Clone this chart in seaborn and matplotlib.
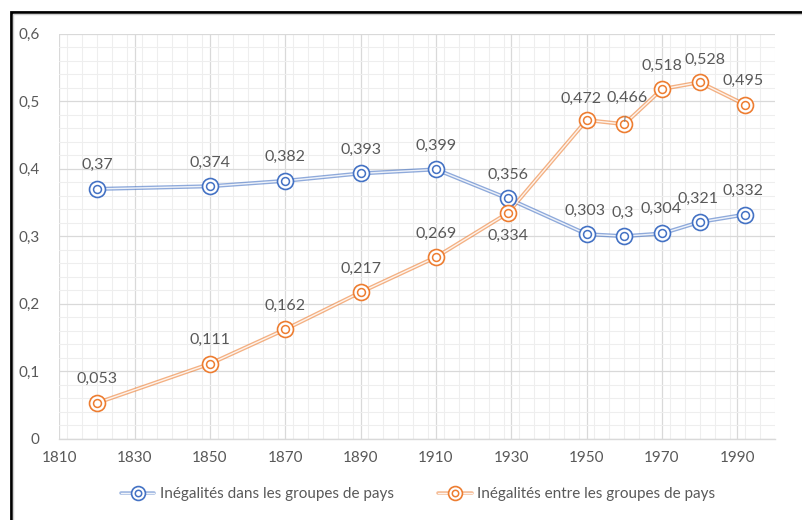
import matplotlib
matplotlib.use("Agg")
import matplotlib.pyplot as plt
import seaborn as sns
import pandas as pd
from matplotlib.ticker import MultipleLocator, FuncFormatter
from matplotlib.lines import Line2D
from matplotlib.legend_handler import HandlerTuple
from matplotlib.patches import Rectangle

# ---------------- data ----------------
years = [1820, 1850, 1870, 1890, 1910, 1929, 1950, 1960, 1970, 1980, 1992]
within = [0.37, 0.374, 0.382, 0.393, 0.399, 0.356, 0.303, 0.3, 0.304, 0.321, 0.332]
between = [0.053, 0.111, 0.162, 0.217, 0.269, 0.334, 0.472, 0.466, 0.518, 0.528, 0.495]
series_names = ["Inégalités dans les groupes de pays",
                "Inégalités entre les groupes de pays"]
colors = ["#4472C4", "#ED7D31"]

df = pd.concat([
    pd.DataFrame({"year": years, "value": within, "series": series_names[0]}),
    pd.DataFrame({"year": years, "value": between, "series": series_names[1]}),
], ignore_index=True)

# ---------------- style ----------------
sns.set_theme(style="white")
plt.rcParams["font.family"] = ["Lato", "DejaVu Sans"]

fig = plt.figure(figsize=(8.02, 5.2), dpi=100)
L, R, T, B = 59.3, 775.0, 33.7, 438.7
ax = fig.add_axes([L / 802, 1 - B / 520, (R - L) / 802, (B - T) / 520])

OUT_LW, IN_LW = 2.9, 1.0
OUT_A, IN_A = 0.6, 0.85
MS_OUT, MS_IN = 132, 32

for name, c in zip(series_names, colors):
    sub = df[df["series"] == name]
    sns.lineplot(data=sub, x="year", y="value", color=c, lw=OUT_LW, alpha=OUT_A,
                 ax=ax, legend=False, zorder=3)
    sns.lineplot(data=sub, x="year", y="value", color="white", lw=IN_LW, alpha=IN_A,
                 ax=ax, legend=False, zorder=4)
    sns.scatterplot(data=sub, x="year", y="value", s=MS_OUT, color="white",
                    edgecolor=c, linewidth=1.2, ax=ax, legend=False, zorder=5)
    sns.scatterplot(data=sub, x="year", y="value", s=MS_IN, color="white",
                    edgecolor=c, linewidth=1.1, ax=ax, legend=False, zorder=6)

# ---------------- labels ----------------
def fmt(v):
    s = f"{v:.3f}".rstrip("0").rstrip(".")
    return s.replace(".", ",")

lab_col = "#595959"
LFS = 11.5
within_off = [(0, 17), (0, 17), (0, 17), (0, 17), (0, 17), (0, 17),
              (-1, 17), (-1, 17), (-1, 18), (-1, 17), (-1, 17)]
between_off = [(0, 17), (0, 17), (0, 17), (0, 17), (0, 17), (0, -16),
               (-4, 15), (2, 19), (0, 17), (4, 16), (-1, 17)]

for x, v, o in zip(years, within, within_off):
    ax.annotate(fmt(v), (x, v), xytext=o, textcoords="offset points",
                ha="center", va="center", fontsize=LFS, color=lab_col, zorder=7)
for i, (x, v, o) in enumerate(zip(years, between, between_off)):
    if i == 7:
        ax.annotate(fmt(v), (x, v), xytext=o, textcoords="offset points",
                    ha="center", va="center", fontsize=LFS, color=lab_col, zorder=7,
                    arrowprops=dict(arrowstyle="-", color="#7f7f7f", lw=0.8,
                                    shrinkA=6, shrinkB=2))
    else:
        ax.annotate(fmt(v), (x, v), xytext=o, textcoords="offset points",
                    ha="center", va="center", fontsize=LFS, color=lab_col, zorder=7)

# ---------------- axes ----------------
ax.set_xlim(1810, 2000)
ax.set_ylim(0, 0.6)
ax.xaxis.set_minor_locator(MultipleLocator(4))
ax.yaxis.set_major_locator(MultipleLocator(0.1))
ax.yaxis.set_minor_locator(MultipleLocator(0.02))
ax.set_xticks(range(1810, 2000, 20))
ax.yaxis.set_major_formatter(FuncFormatter(lambda v, p: fmt(round(v, 1)) if v else "0"))
ax.grid(which="major", color="#D9D9D9", lw=0.9)
ax.grid(which="minor", color="#EEEEEE", lw=0.8)
ax.set_axisbelow(True)
for s in ["top", "right", "left"]:
    ax.spines[s].set_visible(False)
ax.spines["bottom"].set_color("#D9D9D9")
ax.spines["bottom"].set_linewidth(1.0)
ax.tick_params(axis="both", which="both", length=0, labelsize=11,
               labelcolor="#595959")
ax.tick_params(axis="x", pad=9)
ax.tick_params(axis="y", pad=14)
ax.set_xlabel("")
ax.set_ylabel("")

# ---------------- legend ----------------
handles = []
for c in colors:
    handles.append((
        Line2D([0], [0], color=c, lw=2.6, alpha=0.5),
        Line2D([0], [0], color="white", lw=0.9, alpha=0.85),
        Line2D([0], [0], marker="o", ms=10, mfc="white", mec=c, mew=1.2, ls="none"),
        Line2D([0], [0], marker="o", ms=4.6, mfc="white", mec=c, mew=1.1, ls="none"),
    ))
fig.legend(handles, series_names, loc="center", bbox_to_anchor=(418 / 802, 1 - 494 / 520),
           ncol=2, frameon=False, fontsize=11, labelcolor="#595959",
           handlelength=2.2, handletextpad=0.35, columnspacing=2.9, numpoints=1,
           handler_map={tuple: HandlerTuple(ndivide=1, pad=0)})

# ---------------- frame ----------------
fig.patches.append(Rectangle((11 / 802, -0.1), 1.2, 1.1 - 12 / 520,
                             transform=fig.transFigure, fill=False,
                             edgecolor="black", lw=2.0, clip_on=False))
fig.patches.append(Rectangle((13 / 802, -0.1), 1.2, 1.1 - 14.5 / 520,
                             transform=fig.transFigure, fill=False,
                             edgecolor="#D0D0D0", lw=1.0, clip_on=False))

fig.savefig("out.png", dpi=100)
